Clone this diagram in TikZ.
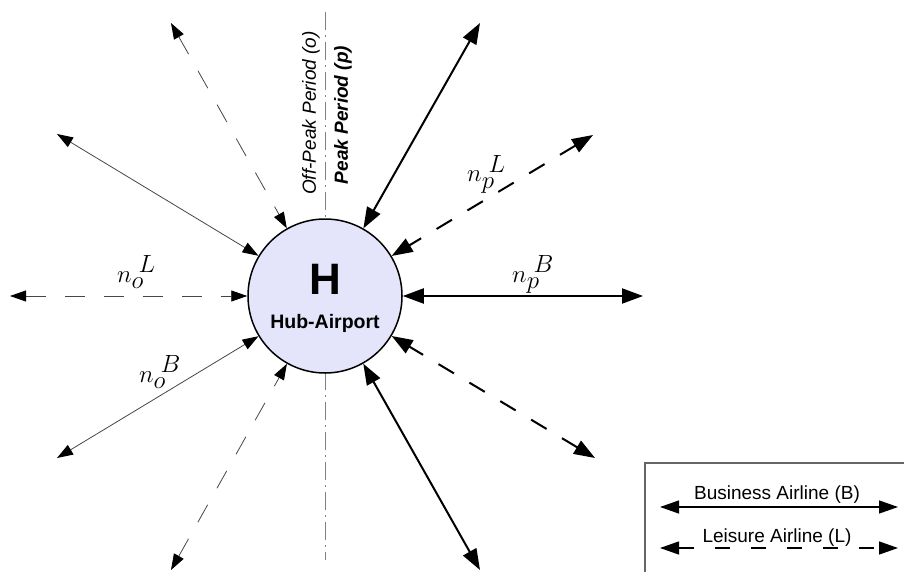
\documentclass[tikz,border=0pt]{standalone}
\usepackage{fontspec}
\setmainfont{Liberation Sans}
\usetikzlibrary{arrows.meta}
\definecolor{hubfill}{RGB}{228,228,250}
\definecolor{thingray}{RGB}{70,70,70}
\begin{document}
\begin{tikzpicture}[x=1pt,y=-1pt,
  thintip/.tip={Triangle[length=16pt,width=11pt,color=black]},
  thicktip/.tip={Triangle[length=21pt,width=15pt,color=black]},
  legtip/.tip={Triangle[length=19pt,width=13pt,color=black]},
  offsolid/.style={draw=thingray,line width=0.8pt,thintip-thintip},
  offdash/.style={draw=thingray,line width=0.8pt,dash pattern=on 20pt off 19pt,thintip-thintip},
  peaksolid/.style={draw=black,line width=2pt,thicktip-thicktip},
  peakdash/.style={draw=black,line width=2pt,dash pattern=on 18pt off 18pt,thicktip-thicktip},
  nlabel/.style={inner sep=0pt,anchor=base west,font=\fontsize{33}{38}\selectfont},
  periodtxt/.style={rotate=90,inner sep=0pt,font=\fontsize{19}{22}\selectfont},
  legtxt/.style={inner sep=0pt,anchor=base,font=\fontsize{19}{22}\selectfont}
]
\useasboundingbox (0,0) rectangle (904,572);

% axis line
\coordinate (vt) at (325,12);
\coordinate (vb) at (325,560);
\draw[gray,line width=0.8pt,dash pattern=on 18pt off 5pt on 2pt off 5pt] (vt) -- (vb);

% hub
\node[circle,draw=black,line width=1.5pt,fill=hubfill,minimum size=154pt,inner sep=0pt] (H) at (325,296) {};
\node[inner sep=0pt,font=\bfseries\fontsize{44}{50}\selectfont] (Hl) at (325,279) {H};
\node[inner sep=0pt,font=\bfseries\fontsize{19.5}{22}\selectfont] (Hs) at (325,323) {Hub-Airport};

% period labels
\node[periodtxt,font=\itshape\fontsize{19}{22}\selectfont] (offp) at (311,113) {Off-Peak Period (o)};
\node[periodtxt,font=\bfseries\itshape\fontsize{19}{22}\selectfont] (peakp) at (343,115) {Peak Period (p)};

% outer ends
\coordinate (oL1) at (171,23);
\coordinate (oB1) at (57,134);
\coordinate (oL2) at (10,296);
\coordinate (oB2) at (57,458);
\coordinate (oL3) at (171,570);
\coordinate (pB1) at (480,23);
\coordinate (pL1) at (593,135);
\coordinate (pB2) at (643,296);
\coordinate (pL2) at (595,458);
\coordinate (pB3) at (480,570);

\draw[offdash] (oL1) -- (H);
\draw[offsolid] (oB1) -- (H);
\draw[offdash] (oL2) -- (H);
\draw[offsolid] (oB2) -- (H);
\draw[offdash] (oL3) -- (H);
\draw[peaksolid] (pB1) -- (H);
\draw[peakdash] (pL1) -- (H);
\draw[peaksolid] (pB2) -- (H);
\draw[peakdash] (pL2) -- (H);
\draw[peaksolid] (pB3) -- (H);

% flow labels
\node[nlabel] (noL) at (117,282) {$n_o^{\kern7pt L}$};
\node[nlabel] (noB) at (139,382) {$n_o^{\kern7pt B}$};
\node[nlabel] (npL) at (467,182) {$n_p^{\kern7pt L}$};
\node[nlabel] (npB) at (512,282) {$n_p^{\kern7pt B}$};

% legend
\coordinate (lgA) at (906,463);
\coordinate (lgB) at (645,463);
\coordinate (lgC) at (645,574);
\draw[draw=black!60,line width=1.5pt] (lgA) -- (lgB) -- (lgC);
\node[legtxt] (bt) at (777,499) {Business Airline (B)};
\node[legtxt] (lt) at (777,542) {Leisure Airline (L)};
\coordinate (b1) at (660,507);
\coordinate (b2) at (898,507);
\coordinate (l1) at (660,548);
\coordinate (l2) at (898,548);
\draw[draw=black,line width=1.3pt,legtip-legtip] (b1) -- (b2);
\draw[draw=black,line width=1.3pt,dash pattern=on 15pt off 21pt,legtip-legtip] (l1) -- (l2);
\end{tikzpicture}
\end{document}
